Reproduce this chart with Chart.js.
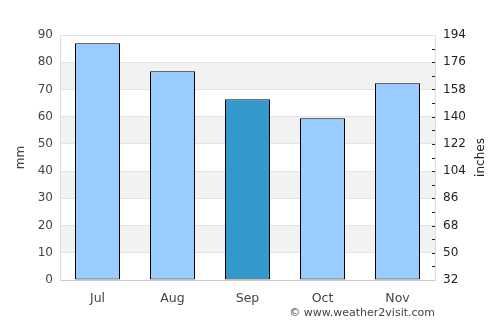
<!DOCTYPE html>
<html>
<head>
<meta charset="utf-8">
<script src="https://cdn.jsdelivr.net/npm/chart.js@4.4.1/dist/chart.umd.min.js"></script>
<style>
  html, body { margin: 0; padding: 0; background: #fff; }
  #wrap { width: 500px; height: 325px; }
</style>
</head>
<body>
<div id="wrap"><canvas id="chart" width="500" height="325"></canvas></div>
<script>
const months = ['Jul', 'Aug', 'Sep', 'Oct', 'Nov'];
const rainMm = [87, 76.7, 66.4, 59.4, 72.3];
const barColors = ['#99ccff', '#99ccff', '#3399cc', '#99ccff', '#99ccff'];
const bandRanges = [[10, 20], [30, 40], [50, 60], [70, 80]];
const rightTitle = 'inches';

// grey bands behind the bars, ticks + title on the right side
const bandsPlugin = {
    id: 'bands',
    beforeDraw(chart) {
        const ctx = chart.ctx;
        const area = chart.chartArea;
        const y = chart.scales.y;
        ctx.save();
        ctx.fillStyle = '#f2f2f2';
        bandRanges.forEach(r => {
            const top = y.getPixelForValue(r[1]);
            const bot = y.getPixelForValue(r[0]);
            ctx.fillRect(area.left, top, area.right - area.left, bot - top);
        });
        ctx.restore();
    },
    afterDraw(chart) {
        const ctx = chart.ctx;
        const area = chart.chartArea;
        const y2 = chart.scales.y2;
        ctx.save();
        ctx.strokeStyle = '#222';
        ctx.lineWidth = 1;
        y2.ticks.forEach((t, i) => {
            if (i === 0 || i === y2.ticks.length - 1) return;
            const py = Math.round(y2.getPixelForValue(t.value)) + 0.5;
            ctx.beginPath();
            ctx.moveTo(area.right - 3, py);
            ctx.lineTo(area.right, py);
            ctx.stroke();
        });
        // right title reads bottom to top like the left one
        ctx.translate(y2.right - 19, (area.top + area.bottom) / 2);
        ctx.rotate(-Math.PI / 2);
        ctx.fillStyle = '#222';
        ctx.font = '12px "DejaVu Sans"';
        ctx.textAlign = 'center';
        ctx.textBaseline = 'middle';
        ctx.fillText(rightTitle, 0, 0);
        ctx.restore();
    }
};

let ctx = document.getElementById('chart').getContext('2d');
let chart = new Chart(ctx, {
    type: 'bar',
    data: {
        labels: months,
        datasets: [{
            data: rainMm,
            backgroundColor: barColors,
            borderColor: '#000',
            borderWidth: 1,
            borderSkipped: false,
            barPercentage: 0.6,
            categoryPercentage: 1.0
        }]
    },
    options: {
        responsive: false,
        animation: false,
        layout: { padding: { top: 35 } },
        plugins: {
            legend: { display: false },
            tooltip: { enabled: false }
        },
        scales: {
            x: {
                grid: { display: false, drawTicks: false },
                border: { color: '#cccccc' },
                ticks: { color: '#444', font: { family: 'DejaVu Sans', size: 12.5 }, padding: 11 },
                title: {
                    display: true,
                    text: '© www.weather2visit.com',
                    align: 'end',
                    color: '#444',
                    font: { family: 'DejaVu Sans', size: 11 },
                    padding: { top: 0, bottom: 5 }
                },
                afterFit(s) { s.height = 45; }
            },
            y: {
                min: 0,
                max: 90,
                ticks: { stepSize: 10, color: '#444', font: { family: 'DejaVu Sans', size: 12 }, padding: 7 },
                grid: { color: '#e3e3e3', drawTicks: false },
                border: { color: '#dddddd' },
                title: {
                    display: true,
                    text: 'mm',
                    color: '#444',
                    font: { family: 'DejaVu Sans', size: 12 },
                    padding: { top: 14, bottom: 0 }
                },
                afterFit(s) { s.width = 60; }
            },
            y2: {
                position: 'right',
                min: 32,
                max: 194,
                afterBuildTicks(s) {
                    s.ticks = [];
                    for (let v = 32; v <= 194; v += 9) s.ticks.push({ value: v });
                },
                ticks: {
                    autoSkip: false,
                    color: '#222',
                    font: { family: 'DejaVu Sans', size: 12 },
                    padding: 8,
                    callback: v => ((v - 32) % 18 === 0 ? v : '')
                },
                grid: { drawOnChartArea: false, drawTicks: false },
                border: { color: '#dddddd' },
                afterFit(s) { s.width = 65; }
            }
        }
    },
    plugins: [bandsPlugin]
});
</script>
</body>
</html>
